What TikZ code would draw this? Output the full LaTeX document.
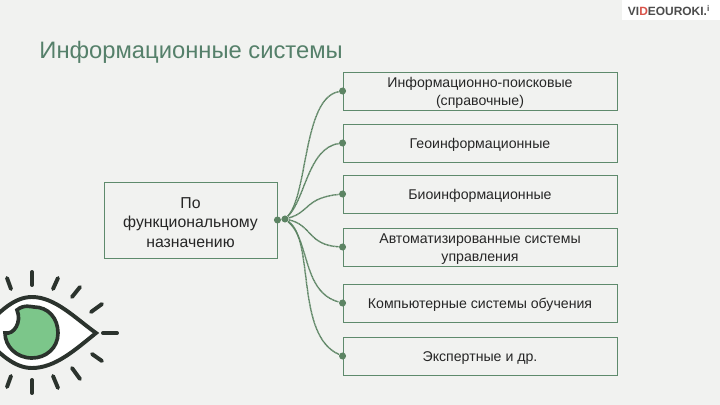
\documentclass[tikz,border=0pt]{standalone}
\usepackage{fontspec}
\setmainfont{Liberation Sans}
\usetikzlibrary{positioning}
\usetikzlibrary{calc}
\definecolor{pagebg}{HTML}{F1F2F0}
\definecolor{titlegreen}{HTML}{55806A}
\definecolor{boxline}{HTML}{5E8A6C}
\definecolor{linkgreen}{HTML}{5C8463}
\definecolor{irisgreen}{HTML}{7CC68A}
\definecolor{eyedark}{HTML}{2B332D}
\definecolor{logored}{HTML}{D9534A}
\newcommand{\downgap}{\rule{0pt}{1em}}

\begin{document}
\begin{tikzpicture}[x=0.025cm,y=-0.025cm,semithick]
		\tikzstyle{infobox}=[draw=boxline,line width=0.6pt,minimum width=6.85cm,minimum height=0.95cm,inner sep=0pt,align=center,text=black!85,font=\fontsize{10.05}{12.8}\selectfont]
		\tikzstyle{dot}=[circle,fill=linkgreen,inner sep=0pt,minimum size=5pt]
		\tikzstyle{link}=[draw=linkgreen,line width=1pt,dash pattern=on 0.8pt off 0.3pt]
		\tikzstyle{ray}=[draw=eyedark,line width=2.8pt,line cap=round]
		
		\fill[pagebg] (0,0) rectangle (720,405);
		\useasboundingbox (0,0) rectangle (720,405);
		\fill[white] (622,0) rectangle (720,20);
		
		\node[anchor=west,text=titlegreen,font=\fontsize{16.9}{18}\selectfont,inner sep=0pt] (title) at (39,52) {Информационные системы};
		\node[anchor=center,font=\fontsize{8.5}{10}\selectfont\bfseries,text=black!70,inner sep=0pt] (logo) at (669,11) {VI\textcolor{logored}{D}EOUROKI.\textsuperscript{i}};
		
		\node[infobox] (B1) at (480,91)  {\downgap Информационно-поисковые\\(справочные)};
		\node[infobox] (B2) at (480,143) {\downgap Геоинформационные};
		\node[infobox] (B3) at (480,194) {\downgap Биоинформационные};
		\node[infobox] (B4) at (480,247) {\downgap Автоматизированные системы\\управления};
		\node[infobox] (B5) at (480,303) {\downgap Компьютерные системы обучения};
		\node[infobox] (B6) at (480,356) {\downgap Экспертные и др.};
		\node[infobox,minimum width=4.325cm,minimum height=1.9cm,font=\fontsize{11.25}{13.9}\selectfont] (S1) at (190.5,220) {\downgap По\\функциональному\\назначению};
		
		\node[dot] (H0) at (S1.east) {};
		\node[dot] (H1) at (285,219) {};
		\node[dot] (D1) at (B1.west) {};
		\node[dot] (D2) at (B2.west) {};
		\node[dot] (D3) at (B3.west) {};
		\node[dot] (D4) at (B4.west) {};
		\node[dot] (D5) at (B5.west) {};
		\node[dot] (D6) at (B6.west) {};
		
		\path[link] (H0) -- (H1);
		\path[link] (H1) .. controls (308,195) and (303,98) .. (D1);
		\path[link] (H1) .. controls (305,200) and (308,148) .. (D2);
		\path[link] (H1) .. controls (310,212) and (305,198) .. (D3);
		\path[link] (H1) .. controls (312,225) and (308,245) .. (D4);
		\path[link] (H1) .. controls (310,240) and (302,292) .. (D5);
		\path[link] (H1) .. controls (315,240) and (295,335) .. (D6);
		
		\begin{scope}
		\clip (0,0) rectangle (720,405);
		\fill[white] (-20,333) .. controls (0,310) and (15,297) .. (32,297)
			.. controls (55,297) and (75,318) .. (96,333)
			.. controls (75,350) and (55,368) .. (32,368)
			.. controls (15,368) and (0,355) .. (-20,333);
		\draw[eyedark,line width=2.8pt,line join=miter] (-20,333) .. controls (0,310) and (15,297) .. (32,297)
			.. controls (55,297) and (75,318) .. (96,333)
			.. controls (75,350) and (55,368) .. (32,368)
			.. controls (15,368) and (0,355) .. (-20,333);
		\draw[eyedark,fill=irisgreen,line width=2.6pt] (17,310) .. controls (24,304) and (32,307) .. (34,307)
			.. controls (48,307) and (58,318) .. (58,333)
			.. controls (58,348) and (46,358) .. (32,358)
			.. controls (16,358) and (5,346) .. (5,333)
			.. controls (14,335) and (22,322) .. (17,310) -- cycle;
		\end{scope}
		
		\draw[ray] (32,272) -- (32,285);
		\draw[ray] (7,278) -- (11,289);
		\draw[ray] (58,278) -- (53,289);
		\draw[ray] (80,287) -- (72,297);
		\draw[ray] (102,304) -- (91,312);
		\draw[ray] (103,333) -- (117,333);
		\draw[ray] (92,354) -- (102,361);
		\draw[ray] (72,368) -- (80,379);
		\draw[ray] (53,376) -- (58,388);
		\draw[ray] (32,380) -- (32,393);
		\draw[ray] (11,376) -- (7,387);
		\end{tikzpicture}
\end{document}
